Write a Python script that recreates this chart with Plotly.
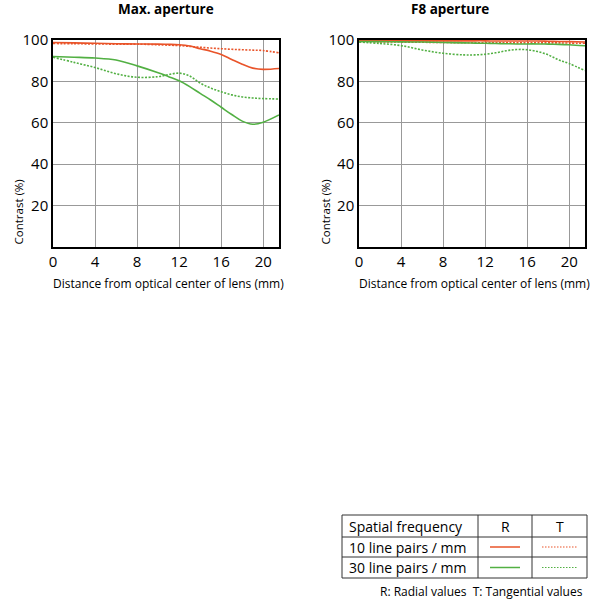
import plotly.graph_objects as go
from plotly.subplots import make_subplots

# MTF data (distance in mm, contrast in %)
dist = [0, 2, 4, 6, 8, 10, 11, 12, 13, 14, 15, 16, 17, 18, 19, 20, 21.5]

max_r10 = [98.8, 98.6, 98.4, 98.2, 98.1, 98.0, 97.9, 97.7, 97.1, 95.8, 94.6, 93.0, 90.6, 88.3, 86.4, 85.8, 86.2]
max_t10 = [98.3, 98.2, 98.1, 98.0, 98.0, 97.7, 97.5, 97.3, 96.9, 96.5, 96.1, 95.8, 95.5, 95.3, 95.1, 94.9, 93.8]
max_r30 = [92.0, 91.7, 91.3, 90.3, 87.5, 84.2, 82.3, 80.3, 77.5, 74.2, 71.0, 67.5, 64.0, 60.8, 59.3, 60.3, 63.8]
max_t30 = [91.7, 89.2, 86.7, 83.7, 82.0, 82.3, 83.3, 84.0, 82.6, 79.2, 76.8, 75.0, 73.5, 72.5, 72.0, 71.7, 71.5]

f8_r10 = [99.6, 99.6, 99.6, 99.6, 99.6, 99.6, 99.6, 99.6, 99.5, 99.5, 99.5, 99.5, 99.5, 99.4, 99.3, 99.2, 99.0]
f8_t10 = [99.2, 99.1, 99.0, 98.9, 98.8, 98.7, 98.7, 98.6, 98.6, 98.6, 98.6, 98.6, 98.6, 98.6, 98.6, 98.5, 98.4]
f8_r30 = [99.3, 99.2, 99.1, 99.0, 98.8, 98.6, 98.5, 98.4, 98.3, 98.2, 98.1, 98.1, 98.1, 98.0, 97.9, 97.7, 97.2]
f8_t30 = [99.0, 98.3, 97.3, 95.2, 93.6, 92.8, 92.8, 93.1, 93.8, 94.8, 95.4, 95.3, 94.4, 92.8, 90.4, 88.6, 85.2]

panel_titles = ["Max. aperture", "F8 aperture"]
x_ticks = [0, 4, 8, 12, 16, 20]
y_ticks = [20, 40, 60, 80, 100]
legend_rows = ["10 line pairs / mm", "30 line pairs / mm"]

RED = "#e9542a"
GREEN = "#52b043"
FONT = "Open Sans"
FINE_DOT = "2px,1.5px"

fig = make_subplots(rows=1, cols=2)

panels = [
    (1, [max_r10, max_t10, max_r30, max_t30]),
    (2, [f8_r10, f8_t10, f8_r30, f8_t30]),
]
styles = [(RED, "solid"), (RED, FINE_DOT), (GREEN, "solid"), (GREEN, FINE_DOT)]

for col, series in panels:
    for vals, (color, dash) in zip(series, styles):
        fig.add_trace(go.Scatter(
            x=dist, y=vals, mode="lines", line_shape="spline",
            line=dict(color=color, width=1.6, dash=dash),
            showlegend=False, hoverinfo="skip"), row=1, col=col)

axis_common = dict(showline=True, mirror=True, linecolor="black", linewidth=1.5,
                   showgrid=True, gridcolor="#999999", gridwidth=1, zeroline=False,
                   automargin=False, ticks="",
                   tickfont=dict(family=FONT, size=15, color="black"))

fig.update_xaxes(range=[0, 21.5], tickvals=x_ticks, **axis_common)
fig.update_yaxes(range=[0, 100], tickvals=y_ticks, **axis_common)

# plot areas placed to match the reference
fig.update_layout(
    xaxis=dict(domain=[53 / 600, 279 / 600]),
    xaxis2=dict(domain=[359 / 600, 585 / 600]),
    yaxis=dict(domain=[1 - 247 / 600, 1 - 40 / 600]),
    yaxis2=dict(domain=[1 - 247 / 600, 1 - 40 / 600]),
)


def text_at(x, y, text, size=11, xanchor="center", yanchor="middle", angle=0):
    return dict(x=x / 600, y=1 - y / 600, xref="paper", yref="paper", text=text,
                showarrow=False, xanchor=xanchor, yanchor=yanchor, textangle=angle,
                font=dict(family=FONT, size=size, color="black"))


annotations = []
for cx, title in zip([166, 450], panel_titles):
    annotations.append(text_at(cx, 9, "<b>" + title + "</b>", size=13.5))
for lx, xt in [(18, 168), (325, 474)]:
    annotations.append(text_at(lx, 247, "Contrast (%)", size=11.5, yanchor="bottom", angle=-90))
    annotations.append(text_at(xt, 283, "Distance from optical center of lens (mm)", size=12))

# legend table in the lower right
tl, tc1, tc2, tr = 342, 478, 532, 587
rows_y = [515, 537, 557, 578]
shapes = []
for yy in rows_y:
    shapes.append(dict(type="line", xref="paper", yref="paper",
                       x0=tl / 600, x1=tr / 600, y0=1 - yy / 600, y1=1 - yy / 600,
                       line=dict(color="#333333", width=1)))
for xx in [tl, tc1, tc2, tr]:
    shapes.append(dict(type="line", xref="paper", yref="paper",
                       x0=xx / 600, x1=xx / 600, y0=1 - rows_y[0] / 600, y1=1 - rows_y[-1] / 600,
                       line=dict(color="#333333", width=1)))

annotations.append(text_at(tl + 5, 526, "Spatial frequency", size=14, xanchor="left"))
annotations.append(text_at((tc1 + tc2) / 2, 526, "R", size=14))
annotations.append(text_at((tc2 + tr) / 2, 526, "T", size=14))
for (ya, yb), label, color in zip([(537, 557), (557, 578)], legend_rows, [RED, GREEN]):
    ym = (ya + yb) / 2
    annotations.append(text_at(tl + 5, ym, label, size=14, xanchor="left"))
    shapes.append(dict(type="line", xref="paper", yref="paper",
                       x0=(tc1 + 12) / 600, x1=(tc2 - 12) / 600, y0=1 - ym / 600, y1=1 - ym / 600,
                       line=dict(color=color, width=1.5)))
    shapes.append(dict(type="line", xref="paper", yref="paper",
                       x0=(tc2 + 10) / 600, x1=(tr - 10) / 600, y0=1 - ym / 600, y1=1 - ym / 600,
                       line=dict(color=color, width=1.2, dash="1.5px,1.5px")))

annotations.append(text_at(585, 591, "R: Radial values  T: Tangential values", size=12, xanchor="right"))

fig.update_layout(
    width=600, height=600,
    margin=dict(l=0, r=0, t=0, b=0),
    paper_bgcolor="white", plot_bgcolor="white",
    annotations=annotations, shapes=shapes,
)

# drop the browser's default body margin so the 600x600 figure fills the window
fig.write_html("out.html", config={"displayModeBar": False},
               post_script="document.body.style.margin = '0';")
